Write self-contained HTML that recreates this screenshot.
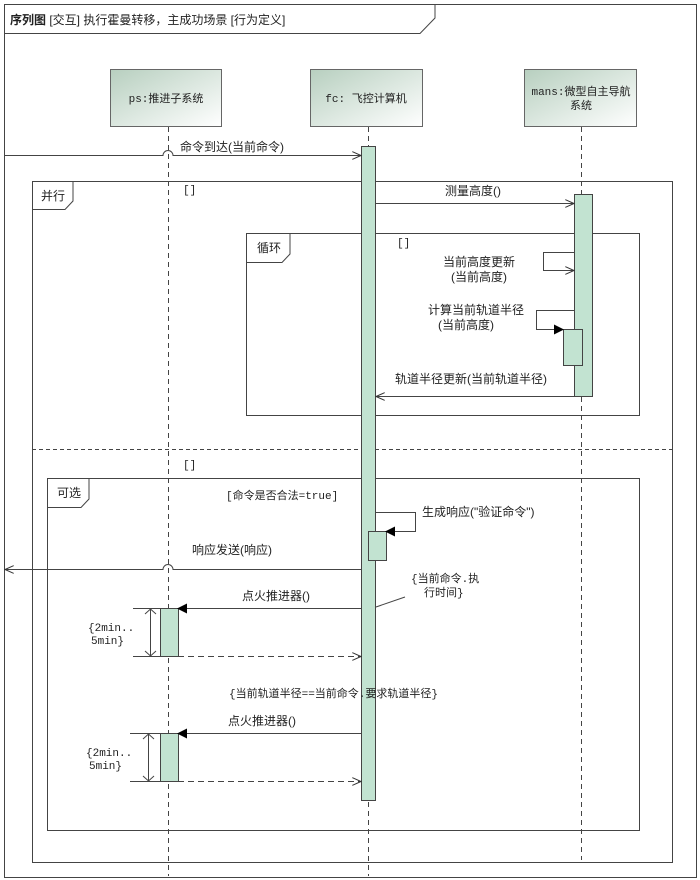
<!DOCTYPE html>
<html><head><meta charset="utf-8"><style>
html,body{margin:0;padding:0;background:#fff;width:700px;height:880px;overflow:hidden}
svg text{font-family:"Liberation Sans","Noto Sans CJK SC",sans-serif;font-size:12px;fill:#222}
.m{font-family:"Liberation Mono","Noto Sans CJK SC",monospace;font-size:11px}
</style></head><body>
<svg width="700" height="880" viewBox="0 0 700 880" xmlns="http://www.w3.org/2000/svg">
<defs>
<linearGradient id="g" x1="0" y1="0" x2="1" y2="1"><stop offset="0" stop-color="#b7cfbf"/><stop offset="1" stop-color="#ffffff"/></linearGradient>
<marker id="open" markerWidth="10" markerHeight="8" refX="9" refY="4" orient="auto" markerUnits="userSpaceOnUse"><path d="M0,0 L9,4 L0,8" fill="none" stroke="#333"/></marker>
<marker id="fill" markerWidth="10" markerHeight="10" refX="9" refY="5" orient="auto" markerUnits="userSpaceOnUse"><path d="M0,0 L10,5 L0,10 z" fill="#000"/></marker>
</defs>
<g fill="none" stroke="#444" stroke-width="1">
<rect x="4.5" y="4.5" width="692" height="873"/>
<path d="M4.5,33.5 H420 L435,18 V4.5"/>
</g>
<text x="10" y="24" style="font-size:12px"><tspan font-weight="bold">序列图</tspan> [交互] 执行霍曼转移，主成功场景 [行为定义]</text>

<g stroke="#666" fill="url(#g)">
<rect x="110.5" y="69.5" width="111" height="57"/>
<rect x="310.5" y="69.5" width="112" height="57"/>
<rect x="524.5" y="69.5" width="112" height="57"/>
</g>
<text class="m" x="166" y="102" text-anchor="middle">ps:推进子系统</text>
<text class="m" x="366" y="102" text-anchor="middle">fc: 飞控计算机</text>
<text class="m" x="581" y="95" text-anchor="middle">mans:微型自主导航</text>
<text class="m" x="581" y="109" text-anchor="middle">系统</text>

<g stroke="#444" stroke-dasharray="5,4">
<line x1="168.5" y1="127" x2="168.5" y2="876"/>
<line x1="368.5" y1="127" x2="368.5" y2="876"/>
<line x1="581.5" y1="127" x2="581.5" y2="860"/>
</g>

<g fill="none" stroke="#444">
<rect x="32.5" y="181.5" width="640" height="681"/>
<path d="M32.5,209.5 H65 L73,201 V181.5"/>
<line x1="32" y1="449.5" x2="673" y2="449.5" stroke-dasharray="4,3"/>
<rect x="246.5" y="233.5" width="393" height="182"/>
<path d="M246.5,262.5 H282 L290,254 V233.5"/>
<rect x="47.5" y="478.5" width="592" height="352"/>
<path d="M47.5,507.5 H81 L89,499 V478.5"/>
</g>
<text x="41" y="200">并行</text>
<text x="183" y="193" class="m">[]</text>
<text x="257" y="252">循环</text>
<text x="397" y="246" class="m">[]</text>
<text x="183" y="468" class="m">[]</text>
<text x="57" y="497">可选</text>
<text x="226" y="499" class="m">[命令是否合法=true]</text>

<g fill="#c2e3d1" stroke="#444">
<rect x="361.5" y="146.5" width="14" height="654"/>
<rect x="574.5" y="194.5" width="18" height="202"/>
<rect x="563.5" y="329.5" width="19" height="36"/>
<rect x="368.5" y="531.5" width="18" height="29"/>
<rect x="160.5" y="608.5" width="18" height="48"/>
<rect x="160.5" y="733.5" width="18" height="48"/>
</g>

<g fill="none" stroke="#444">
<path d="M4,155.5 H163 A5,5 0 0 1 173,155.5 H361" marker-end="url(#open)"/>
<line x1="375" y1="203.5" x2="574" y2="203.5" marker-end="url(#open)"/>
<path d="M574,252.5 H543.5 V270.5 H574" marker-end="url(#open)"/>
<path d="M574,310.5 H536.5 V329.5 H563" marker-end="url(#fill)"/>
<line x1="574" y1="396.5" x2="376" y2="396.5" marker-end="url(#open)"/>
<path d="M376,512.5 H415.5 V531.5 H386" marker-end="url(#fill)"/>
<path d="M361,569.5 H173 A5,5 0 0 0 163,569.5 H5" marker-end="url(#open)"/>
<line x1="361" y1="608.5" x2="178" y2="608.5" marker-end="url(#fill)"/>
<line x1="178" y1="656.5" x2="361" y2="656.5" stroke-dasharray="6,4" marker-end="url(#open)"/>
<line x1="361" y1="733.5" x2="178" y2="733.5" marker-end="url(#fill)"/>
<line x1="178" y1="781.5" x2="361" y2="781.5" stroke-dasharray="6,4" marker-end="url(#open)"/>
<line x1="133" y1="608.5" x2="160" y2="608.5"/>
<line x1="133" y1="656.5" x2="160" y2="656.5"/>
<line x1="150.5" y1="609" x2="150.5" y2="656"/>
<path d="M145,614 L150.5,609 L156,614 M145,651 L150.5,656 L156,651"/>
<line x1="130" y1="733.5" x2="160" y2="733.5"/>
<line x1="130" y1="781.5" x2="160" y2="781.5"/>
<line x1="148.5" y1="734" x2="148.5" y2="781"/>
<path d="M143,739 L148.5,734 L154,739 M143,776 L148.5,781 L154,776"/>
<line x1="376" y1="607" x2="405" y2="597"/>
</g>

<text x="180" y="151">命令到达(当前命令)</text>
<text x="445" y="195">测量高度()</text>
<text x="479" y="266" text-anchor="middle">当前高度更新</text>
<text x="479" y="281" text-anchor="middle">(当前高度)</text>
<text x="476" y="314" text-anchor="middle">计算当前轨道半径</text>
<text x="466" y="329" text-anchor="middle">(当前高度)</text>
<text x="395" y="383">轨道半径更新(当前轨道半径)</text>
<text x="422" y="516">生成响应("验证命令")</text>
<text x="192" y="554">响应发送(响应)</text>
<text class="m" x="411" y="582">{当前命令.执</text>
<text class="m" x="424" y="596">行时间}</text>
<text x="242" y="600">点火推进器()</text>
<text class="m" x="88" y="631">{2min..</text>
<text class="m" x="91" y="644">5min}</text>
<text class="m" x="229" y="697">{当前轨道半径==当前命令.要求轨道半径}</text>
<text x="228" y="725">点火推进器()</text>
<text class="m" x="86" y="756">{2min..</text>
<text class="m" x="89" y="769">5min}</text>
</svg>
</body></html>
